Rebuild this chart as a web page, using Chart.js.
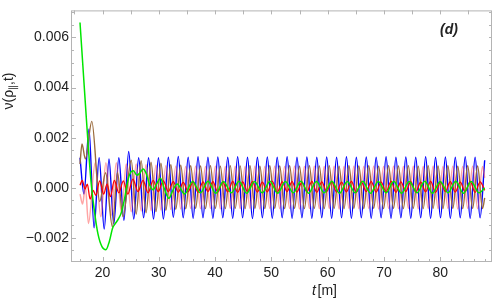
<!DOCTYPE html>
<html>
<head>
<meta charset="utf-8">
<script src="https://cdn.jsdelivr.net/npm/chart.js@4.4.1/dist/chart.umd.min.js"></script>
<style>
  html, body { margin: 0; padding: 0; background: #fff; }
  canvas { display: block; }
</style>
</head>
<body>
<canvas id="nuChart" width="494" height="303"></canvas>
<script>
// values are in units of 1e-3, points are [t, v]
const xTicks = [20, 30, 40, 50, 60, 70, 80];
const yTicks = [-2, 0, 2, 4, 6];

const blue = [
  [16.0, 1.2], [16.7, -0.25], [17.6, 2.35], [18.5, -1.6], [19.4, 1.2], [20.3, -1.65], [21.15, 1.15],
  [22.0, -1.45], [22.9, 1.2], [23.8, -1.3], [24.65, 1.45], [25.55, -1.25], [26.42, 1.2], [27.3, -1.2],
  [28.18, 1.2], [29.06, -1.25], [29.94, 1.2], [30.82, -1.25], [31.7, 1.22], [32.58, -1.18], [33.46, 1.25],
  [34.34, -1.2], [35.22, 1.22], [36.1, -1.22], [36.97, 1.24], [37.85, -1.2], [38.73, 1.22], [39.61, -1.22],
  [40.49, 1.23], [41.37, -1.2], [42.25, 1.22], [43.13, -1.22], [44.01, 1.24], [44.89, -1.2], [45.76, 1.22],
  [46.64, -1.23], [47.52, 1.22], [48.4, -1.2], [49.28, 1.23], [50.16, -1.22], [51.04, 1.22], [51.92, -1.2],
  [52.8, 1.24], [53.68, -1.22], [54.55, 1.22], [55.43, -1.2], [56.31, 1.23], [57.19, -1.22], [58.07, 1.22],
  [58.95, -1.2], [59.83, 1.23], [60.71, -1.22], [61.59, 1.22], [62.47, -1.2], [63.34, 1.24], [64.22, -1.22],
  [65.1, 1.22], [65.98, -1.2], [66.86, 1.23], [67.74, -1.22], [68.62, 1.22], [69.5, -1.2], [70.38, 1.24],
  [71.26, -1.22], [72.13, 1.22], [73.01, -1.2], [73.89, 1.23], [74.77, -1.22], [75.65, 1.22], [76.53, -1.2],
  [77.41, 1.24], [78.29, -1.22], [79.17, 1.22], [80.05, -1.2], [80.92, 1.23], [81.8, -1.22], [82.68, 1.22],
  [83.56, -1.2], [84.44, 1.24], [85.32, -1.22], [86.2, 1.22], [87.08, -1.2], [87.9, 1.1]
];

const brown = [
  [16.0, 0.95], [16.35, 1.75], [16.95, 1.15], [18.1, 2.65], [19.5, -0.55], [20.55, 0.6], [21.75, -1.55],
  [22.65, 0.6], [23.65, -1.15], [25.1, 1.1], [25.98, -1.05], [26.86, 1.08], [27.74, -1.0], [28.62, 1.02],
  [29.5, -0.95], [30.38, 0.98], [31.26, -0.9], [32.14, 0.92], [33.02, -0.86], [33.9, 0.9], [34.78, -0.84],
  [35.66, 0.88], [36.54, -0.82], [37.41, 0.87], [38.29, -0.83], [39.17, 0.88], [40.05, -0.82], [40.93, 0.86],
  [41.81, -0.83], [42.69, 0.88], [43.57, -0.82], [44.45, 0.87], [45.33, -0.83], [46.2, 0.88], [47.08, -0.82],
  [47.96, 0.86], [48.84, -0.83], [49.72, 0.88], [50.6, -0.82], [51.48, 0.87], [52.36, -0.83], [53.24, 0.88],
  [54.12, -0.82], [54.99, 0.86], [55.87, -0.83], [56.75, 0.88], [57.63, -0.82], [58.51, 0.87], [59.39, -0.83],
  [60.27, 0.88], [61.15, -0.82], [62.03, 0.86], [62.91, -0.83], [63.78, 0.88], [64.66, -0.82], [65.54, 0.87],
  [66.42, -0.83], [67.3, 0.88], [68.18, -0.82], [69.06, 0.86], [69.94, -0.83], [70.82, 0.88], [71.7, -0.82],
  [72.57, 0.87], [73.45, -0.83], [74.33, 0.88], [75.21, -0.82], [76.09, 0.86], [76.97, -0.83], [77.85, 0.88],
  [78.73, -0.82], [79.61, 0.87], [80.49, -0.83], [81.36, 0.88], [82.24, -0.82], [83.12, 0.86], [84.0, -0.83],
  [84.88, 0.88], [85.76, -0.82], [86.64, 0.87], [87.52, -0.83], [87.9, -0.4]
];

const pink = [
  [16.0, -0.25], [16.45, -0.65], [16.95, 0.05], [17.5, -1.42], [18.7, 1.0], [19.7, -1.15], [20.6, 1.0],
  [21.55, -1.1], [22.45, 1.0], [23.35, -1.0], [24.22, 0.95], [25.1, -0.95], [25.98, 0.95], [26.86, -0.92],
  [27.74, 0.92], [28.62, -0.9], [29.5, 0.9], [30.38, -0.88], [31.26, 0.88], [32.14, -0.86], [33.02, 0.86],
  [33.9, -0.84], [34.78, 0.85], [35.66, -0.82], [36.54, 0.86], [37.41, -0.83], [38.29, 0.85], [39.17, -0.82],
  [40.05, 0.86], [40.93, -0.84], [41.81, 0.85], [42.69, -0.82], [43.57, 0.86], [44.45, -0.83], [45.33, 0.85],
  [46.2, -0.82], [47.08, 0.86], [47.96, -0.84], [48.84, 0.85], [49.72, -0.82], [50.6, 0.86], [51.48, -0.83],
  [52.36, 0.85], [53.24, -0.82], [54.12, 0.86], [54.99, -0.84], [55.87, 0.85], [56.75, -0.82], [57.63, 0.86],
  [58.51, -0.83], [59.39, 0.85], [60.27, -0.82], [61.15, 0.86], [62.03, -0.84], [62.91, 0.85], [63.78, -0.82],
  [64.66, 0.86], [65.54, -0.83], [66.42, 0.85], [67.3, -0.82], [68.18, 0.86], [69.06, -0.84], [69.94, 0.85],
  [70.82, -0.82], [71.7, 0.86], [72.57, -0.83], [73.45, 0.85], [74.33, -0.82], [75.21, 0.86], [76.09, -0.84],
  [76.97, 0.85], [77.85, -0.82], [78.73, 0.86], [79.61, -0.83], [80.49, 0.85], [81.36, -0.82], [82.24, 0.86],
  [83.12, -0.84], [84.0, 0.85], [84.88, -0.82], [85.76, 0.86], [86.64, -0.83], [87.52, 0.85], [87.9, 0.4]
];

const red = [
  [16.0, 0.1], [16.4, 0.3], [16.9, -0.05], [17.3, 0.15], [17.8, -0.45], [18.35, -0.1], [18.8, -0.3],
  [19.5, 0.28], [20.2, -0.25], [20.8, 0.15], [21.4, -0.35], [22.1, 0.3], [22.9, -0.2], [23.7, 0.28],
  [24.5, -0.25], [25.4, 0.35], [26.3, -0.15], [27.2, 0.3], [28.1, -0.2], [29.0, 0.3], [29.9, -0.15],
  [30.8, 0.28], [31.7, -0.15], [32.58, 0.25], [33.46, -0.17], [34.34, 0.22], [35.22, -0.15], [36.1, 0.26],
  [36.97, -0.18], [37.85, 0.24], [38.73, -0.15], [39.61, 0.25], [40.49, -0.17], [41.37, 0.23], [42.25, -0.16],
  [43.13, 0.26], [44.01, -0.18], [44.89, 0.24], [45.76, -0.15], [46.64, 0.25], [47.52, -0.17], [48.4, 0.23],
  [49.28, -0.16], [50.16, 0.26], [51.04, -0.18], [51.92, 0.24], [52.8, -0.15], [53.68, 0.25], [54.55, -0.17],
  [55.43, 0.23], [56.31, -0.16], [57.19, 0.26], [58.07, -0.18], [58.95, 0.24], [59.83, -0.15], [60.71, 0.25],
  [61.59, -0.17], [62.47, 0.23], [63.34, -0.16], [64.22, 0.26], [65.1, -0.18], [65.98, 0.24], [66.86, -0.15],
  [67.74, 0.25], [68.62, -0.17], [69.5, 0.23], [70.38, -0.16], [71.26, 0.26], [72.13, -0.18], [73.01, 0.24],
  [73.89, -0.15], [74.77, 0.25], [75.65, -0.17], [76.53, 0.23], [77.41, -0.16], [78.29, 0.26], [79.17, -0.18],
  [80.05, 0.24], [80.92, -0.15], [81.8, 0.25], [82.68, -0.17], [83.56, 0.23], [84.44, -0.16], [85.32, 0.26],
  [86.2, -0.18], [87.08, 0.24], [87.9, -0.1]
];

const green = [
  [16.0, 6.6], [16.5, 4.9], [17.0, 3.2], [17.5, 1.55], [18.0, 0.15], [18.6, -1.0], [19.2, -1.85],
  [19.9, -2.35], [20.6, -2.47], [21.2, -2.15], [21.8, -1.6], [22.2, -1.45], [22.8, -1.25], [23.4, -0.95],
  [23.9, -0.45], [24.5, 0.3], [25.0, 0.62], [25.5, 0.68], [26.1, 0.5], [26.6, 0.58], [27.2, 0.75],
  [27.8, 0.55], [28.4, 0.1], [29.0, -0.08], [29.6, 0.15], [30.3, 0.38], [31.0, -0.05], [31.8, -0.42],
  [32.5, -0.1], [33.25, 0.15], [34.6, -0.25], [36.0, 0.25], [37.4, -0.2], [38.75, 0.26], [40.1, -0.22],
  [41.5, 0.25], [42.9, -0.2], [44.25, 0.26], [45.6, -0.22], [47.0, 0.25], [48.4, -0.2], [49.75, 0.26],
  [51.1, -0.22], [52.5, 0.25], [53.9, -0.2], [55.25, 0.26], [56.6, -0.22], [58.0, 0.25], [59.4, -0.2],
  [60.75, 0.26], [62.1, -0.22], [63.5, 0.25], [64.9, -0.2], [66.25, 0.26], [67.6, -0.22], [69.0, 0.25],
  [70.4, -0.2], [71.75, 0.26], [73.1, -0.22], [74.5, 0.25], [75.9, -0.2], [77.25, 0.26], [78.6, -0.22],
  [80.0, 0.25], [81.4, -0.2], [82.75, 0.26], [84.1, -0.22], [85.5, 0.25], [86.9, -0.2], [87.9, 0.0]
];

const FONT = "'Liberation Sans', Arial, sans-serif";
const FRAME = "#b4b4b4";

function line(data, color, width) {
  return {
    data: data,
    borderColor: color,
    borderWidth: width,
    pointRadius: 0,
    fill: false,
    cubicInterpolationMode: "monotone",
  };
}

const frameTicks = {
  id: "frameTicks",
  afterDraw(chart) {
    const { ctx, chartArea: a, scales } = chart;
    const x = scales.x, y = scales.y;
    ctx.save();
    ctx.strokeStyle = FRAME;
    ctx.lineWidth = 1;
    ctx.strokeRect(a.left + 0.5, a.top + 0.5, a.right - a.left - 1, a.bottom - a.top - 1);
    ctx.beginPath();
    for (let t = 16; t <= 88; t += 2) {
      const px = Math.round(x.getPixelForValue(t)) + 0.5;
      const len = xTicks.includes(t) ? 5 : 3;
      ctx.moveTo(px, a.bottom); ctx.lineTo(px, a.bottom - len);
    }
    for (let t = 15; t <= 85; t += 5) {
      const px = Math.round(x.getPixelForValue(t)) + 0.5;
      ctx.moveTo(px, a.top); ctx.lineTo(px, a.top + 4);
    }
    for (let v = -2.5; v <= 7; v += 0.5) {
      const py = Math.round(y.getPixelForValue(v)) + 0.5;
      const len = yTicks.includes(v) ? 5 : 3;
      ctx.moveTo(a.left, py); ctx.lineTo(a.left + len, py);
      ctx.moveTo(a.right, py); ctx.lineTo(a.right - 3, py);
    }
    ctx.stroke();

    ctx.fillStyle = "#222";
    ctx.textBaseline = "middle";

    // x title: t [m]
    ctx.font = "italic 14px " + FONT;
    ctx.fillText("t", 312, 291);
    ctx.font = "14px " + FONT;
    ctx.fillText("[m]", 317.5, 291);

    // panel tag
    ctx.font = "italic bold 14px " + FONT;
    ctx.textAlign = "center";
    ctx.fillText("(d)", 449, 30);

    // y title: ν(ρ∥,t)
    ctx.textAlign = "left";
    ctx.translate(9, 91);
    ctx.rotate(-Math.PI / 2);
    const big = "14px " + FONT, small = "10px " + FONT;
    ctx.font = big; const w1 = ctx.measureText("ν(ρ").width;
    ctx.font = small; const w2 = ctx.measureText("∥").width;
    ctx.font = big; const w3 = ctx.measureText(",t)").width;
    let sx = -(w1 + w2 + w3) / 2;
    ctx.font = big; ctx.fillText("ν(ρ", sx, 0);
    ctx.font = small; ctx.fillText("∥", sx + w1, 4);
    ctx.font = big; ctx.fillText(",t)", sx + w1 + w2, 0);
    ctx.restore();
  }
};

new Chart(document.getElementById("nuChart"), {
  type: "line",
  data: {
    datasets: [
      line(green, "#00e600", 1.5),
      line(red, "#ff0000", 1.3),
      line(brown, "#9a6a3c", 1.4),
      line(pink, "rgba(255, 90, 90, 0.55)", 1.5),
      line(blue, "#0000ff", 1.4),
    ],
  },
  options: {
    responsive: false,
    animation: false,
    devicePixelRatio: 1,
    layout: { padding: { left: 0, right: 2, top: 1, bottom: 0 } },
    plugins: { legend: { display: false }, tooltip: { enabled: false } },
    scales: {
      x: {
        type: "linear",
        min: 14.4,
        max: 89.2,
        afterFit: (s) => { s.height = 41; },
        grid: { display: false, drawTicks: false },
        border: { display: false },
        ticks: {
          stepSize: 10,
          includeBounds: false,
          maxRotation: 0,
          padding: 3,
          color: "#222",
          font: { size: 14, family: FONT },
        },
      },
      y: {
        type: "linear",
        min: -2.96,
        max: 7.08,
        afterFit: (s) => { s.width = 71; },
        grid: { display: false, drawTicks: false },
        border: { display: false },
        ticks: {
          stepSize: 2,
          includeBounds: false,
          padding: 2,
          color: "#222",
          font: { size: 14, family: FONT },
          callback: (v) => (v / 1000).toFixed(3).replace("-", "\u2212"),
        },
      },
    },
  },
  plugins: [frameTicks],
});
</script>
</body>
</html>
